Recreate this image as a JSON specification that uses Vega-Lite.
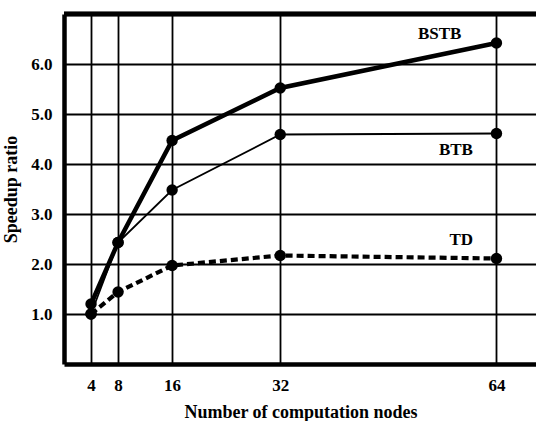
{
  "$schema": "https://vega.github.io/schema/vega-lite/v6.json",
  "width": 473,
  "height": 350,
  "padding": {"left": 2, "top": 11, "right": 0, "bottom": 0},
  "background": "white",
  "config": {
    "view": {"stroke": null},
    "font": "Liberation Serif",
    "axis": {
      "labelFont": "Liberation Serif",
      "labelFontWeight": "bold",
      "labelFontSize": 17,
      "labelColor": "black",
      "titleFont": "Liberation Serif",
      "titleFontWeight": "bold",
      "titleFontSize": 18,
      "titleColor": "black",
      "gridColor": "black",
      "gridWidth": 1.8,
      "gridOpacity": 1,
      "domainColor": "black",
      "domainWidth": 4.5,
      "ticks": false
    }
  },
  "datasets": {
    "series": [
      {"nodes": 4, "speedup": 1.2, "method": "BSTB"},
      {"nodes": 8, "speedup": 2.43, "method": "BSTB"},
      {"nodes": 16, "speedup": 4.47, "method": "BSTB"},
      {"nodes": 32, "speedup": 5.52, "method": "BSTB"},
      {"nodes": 64, "speedup": 6.42, "method": "BSTB"},
      {"nodes": 4, "speedup": 1.0, "method": "BTB"},
      {"nodes": 8, "speedup": 2.43, "method": "BTB"},
      {"nodes": 16, "speedup": 3.48, "method": "BTB"},
      {"nodes": 32, "speedup": 4.59, "method": "BTB"},
      {"nodes": 64, "speedup": 4.61, "method": "BTB"},
      {"nodes": 4, "speedup": 1.0, "method": "TD"},
      {"nodes": 8, "speedup": 1.44, "method": "TD"},
      {"nodes": 16, "speedup": 1.97, "method": "TD"},
      {"nodes": 32, "speedup": 2.17, "method": "TD"},
      {"nodes": 64, "speedup": 2.11, "method": "TD"}
    ],
    "labels": [
      {"nodes": 55.6, "speedup": 6.6, "method": "BSTB"},
      {"nodes": 58.0, "speedup": 4.28, "method": "BTB"},
      {"nodes": 58.8, "speedup": 2.49, "method": "TD"}
    ]
  },
  "encoding": {
    "x": {
      "field": "nodes", "type": "quantitative",
      "scale": {"domain": [0, 70], "nice": false, "zero": false},
      "axis": {"values": [4, 8, 16, 32, 64], "title": "Number of computation nodes", "labelPadding": 13, "titlePadding": 10, "format": "d", "grid": true}
    },
    "y": {
      "field": "speedup", "type": "quantitative",
      "scale": {"domain": [0, 7], "nice": false},
      "axis": {"values": [1, 2, 3, 4, 5, 6], "format": ".1f", "title": "Speedup ratio", "labelPadding": 12, "titlePadding": 10, "grid": true}
    }
  },
  "layer": [
    {
      "data": {"name": "series"},
      "transform": [{"filter": "datum.method === 'BSTB'"}],
      "mark": {"type": "line", "color": "black", "strokeWidth": 4.5}
    },
    {
      "data": {"name": "series"},
      "transform": [{"filter": "datum.method === 'BTB'"}],
      "mark": {"type": "line", "color": "black", "strokeWidth": 1.8}
    },
    {
      "data": {"name": "series"},
      "transform": [{"filter": "datum.method === 'TD'"}],
      "mark": {"type": "line", "color": "black", "strokeWidth": 4.2, "strokeDash": [7, 4]}
    },
    {
      "data": {"name": "series"},
      "mark": {"type": "point", "filled": true, "color": "black", "opacity": 1, "size": 130}
    },
    {
      "data": {"name": "labels"},
      "mark": {"type": "text", "font": "Liberation Serif", "fontWeight": "bold", "fontSize": 17, "color": "black", "align": "center", "baseline": "middle"},
      "encoding": {
        "text": {"field": "method"}
      }
    },
    {
      "data": {"name": "labels"},
      "mark": {"type": "rule", "color": "black", "strokeWidth": 4.5},
      "encoding": {"x": null, "y": {"datum": 7}}
    }
  ]
}
